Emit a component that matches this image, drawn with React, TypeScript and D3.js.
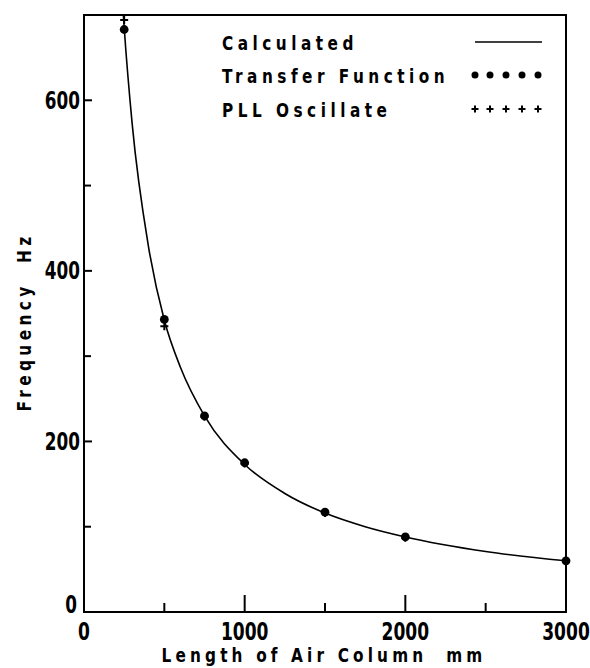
import React from "react";
import * as d3 from "d3";

// values
const calcLength = [245, 250, 300, 400, 500, 600, 750, 1000, 1250, 1500, 1750, 2000, 2500, 3000];
const calcFreq = [700, 686, 572, 430, 342, 287, 230, 173, 139, 116, 100, 88, 71, 60];
const tfLength = [250, 500, 750, 1000, 1500, 2000, 3000];
const tfFreq = [683, 343, 230, 175, 117, 88, 60];
const pllLength = [250, 500, 750, 1000, 1500, 2000, 3000];
const pllFreq = [694, 335, 229, 174, 116, 87, 59];
const xMajor = [0, 1000, 2000, 3000];
const xMinor = [500, 1500, 2500];
const yMajor = [200, 400, 600];
const yMinor = [100, 300, 500];
const legendLabels = ["Calculated", "Transfer Function", "PLL Oscillate"];

const W = 590;
const H = 668;
const FONT = "'DejaVu Sans Condensed', 'DejaVu Sans', sans-serif";

// squeezed text, like the plotter lettering
function Label({ x, y, size, anchor = "start", sx = 0.8, spacing = 0, rotate = 0, weight = "normal", children }: any) {
  return (
    <text
      transform={`translate(${x},${y}) rotate(${rotate}) scale(${sx},1)`}
      textAnchor={anchor}
      fontFamily={FONT}
      fontSize={size}
      fontWeight={weight}
      letterSpacing={spacing}
      style={{ whiteSpace: "pre" }}
    >
      {children}
    </text>
  );
}

export default function App() {
  const x = d3.scaleLinear().domain([0, 3000]).range([84, 566]);
  const y = d3.scaleLinear().domain([0, 700]).range([612, 15]);

  const line = d3
    .line<number>()
    .x((d, i) => x(calcLength[i]))
    .y((d) => y(d))
    .curve(d3.curveMonotoneX);

  const plus = (cx: number, cy: number, s: number) =>
    `M${cx - s},${cy}H${cx + s}M${cx},${cy - s}V${cy + s}`;

  const legendY = [42, 75, 109];
  const legendX = [475, 490, 506, 522, 538];

  return (
    <svg
      width={W}
      height={H}
      style={{ position: "absolute", left: 0, top: 0, background: "#fff" }}
    >
      {/* frame */}
      <rect
        x={x(0)}
        y={y(700)}
        width={x(3000) - x(0)}
        height={y(0) - y(700)}
        fill="none"
        stroke="#000"
        strokeWidth={2}
      />

      {/* x ticks */}
      {xMajor.slice(1, 3).map((v) => (
        <line key={"xM" + v} x1={x(v)} x2={x(v)} y1={y(0)} y2={y(0) - 17} stroke="#000" strokeWidth={2} />
      ))}
      {xMinor.map((v) => (
        <line key={"xm" + v} x1={x(v)} x2={x(v)} y1={y(0)} y2={y(0) - 9} stroke="#000" strokeWidth={2} />
      ))}
      {xMajor.map((v) => (
        <Label key={"xl" + v} x={x(v)} y={640} size={25} anchor="middle" sx={0.76} weight="bold">
          {String(v)}
        </Label>
      ))}

      {/* y ticks */}
      {yMajor.map((v) => (
        <line key={"yM" + v} x1={x(0)} x2={x(0) + 8} y1={y(v)} y2={y(v)} stroke="#000" strokeWidth={2} />
      ))}
      {yMinor.map((v) => (
        <line key={"ym" + v} x1={x(0)} x2={x(0) + 7} y1={y(v)} y2={y(v)} stroke="#000" strokeWidth={2} />
      ))}
      {yMajor.map((v) => (
        <Label key={"yl" + v} x={80} y={y(v) + 8.5} size={24} anchor="end" sx={0.78} weight="bold">
          {String(v)}
        </Label>
      ))}
      <Label x={77} y={y(0) + 1} size={24} anchor="end" sx={0.78} weight="bold">
        0
      </Label>

      {/* axis titles */}
      <Label x={324} y={662} size={20} anchor="middle" sx={0.85} spacing={4.9} weight="bold">
        {"Length of Air Column  mm"}
      </Label>
      <Label x={31} y={322} size={20} anchor="middle" sx={0.85} spacing={5.2} rotate={-90} weight="bold">
        {"Frequency  Hz"}
      </Label>

      {/* calculated curve */}
      <path d={line(calcFreq) || ""} fill="none" stroke="#000" strokeWidth={1.6} />

      {/* transfer function */}
      {tfLength.map((l, i) => (
        <circle key={"tf" + i} cx={x(l)} cy={y(tfFreq[i])} r={4.4} fill="#000" />
      ))}

      {/* PLL oscillate */}
      {pllLength.map((l, i) => (
        <path key={"pl" + i} d={plus(x(l), y(pllFreq[i]), 4)} stroke="#000" strokeWidth={2} />
      ))}

      {/* legend */}
      {legendLabels.map((t, i) => (
        <Label key={t} x={222} y={legendY[i] + 8} size={20} sx={0.85} spacing={5.3} weight="bold">
          {t}
        </Label>
      ))}
      <line x1={475} x2={542} y1={legendY[0]} y2={legendY[0]} stroke="#000" strokeWidth={1.6} />
      {legendX.map((lx) => (
        <circle key={"lc" + lx} cx={lx} cy={legendY[1]} r={3.5} fill="#000" />
      ))}
      {legendX.map((lx) => (
        <path key={"lp" + lx} d={plus(lx, legendY[2], 3.5)} stroke="#000" strokeWidth={2} />
      ))}
    </svg>
  );
}
